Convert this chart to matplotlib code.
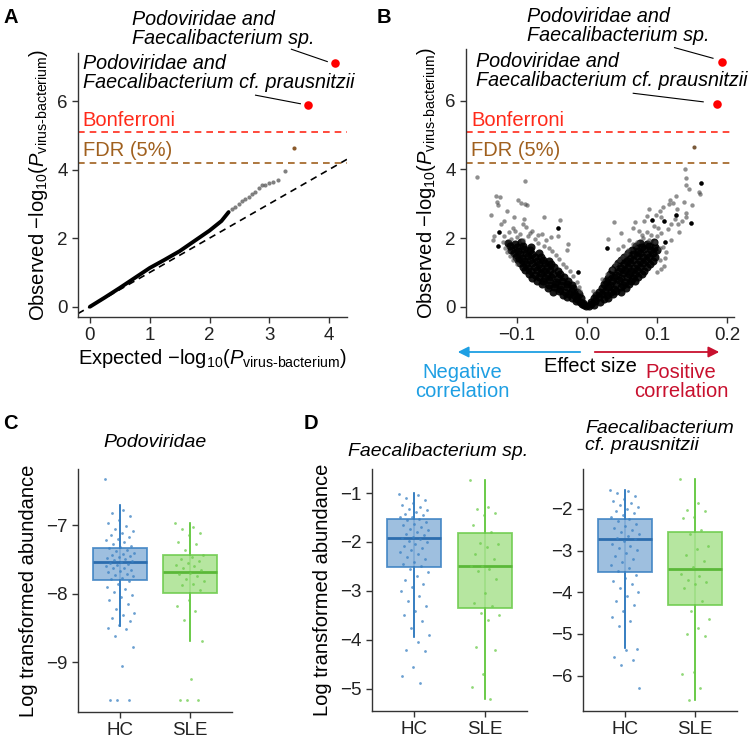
import matplotlib
matplotlib.use("Agg")
import matplotlib.pyplot as plt

plt.rcParams["font.family"] = ["Liberation Sans", "DejaVu Sans"]
plt.rcParams["mathtext.fontset"] = "custom"
plt.rcParams["mathtext.rm"] = "Liberation Sans"
plt.rcParams["mathtext.it"] = "Liberation Sans:italic"
plt.rcParams["mathtext.bf"] = "Liberation Sans:bold"

# ---- panel A: QQ plot ----
qq_bulk_exp = [0.0, 0.25, 0.5, 0.75, 1.0, 1.25, 1.5, 1.75, 2.0, 2.2, 2.32]
qq_bulk_obs = [0.0, 0.27, 0.55, 0.84, 1.13, 1.37, 1.62, 1.92, 2.22, 2.50, 2.76]
qq_tail_exp = [2.38, 2.43, 2.49, 2.55, 2.60, 2.66, 2.71, 2.76, 2.82, 2.87, 2.92, 2.99, 3.06, 3.15, 3.26]
qq_tail_obs = [2.84, 2.92, 3.00, 3.07, 3.15, 3.20, 3.29, 3.36, 3.47, 3.54, 3.56, 3.61, 3.65, 3.70, 3.95]
qq_fdr_exp = [3.41]
qq_fdr_obs = [4.62]
qq_top_exp = [3.64, 4.10]
qq_top_obs = [5.88, 7.10]

bonferroni = 5.1
fdr = 4.2

# ---- panel B: volcano ----
vol_core_left = [
    (-0.004, 0.04), (-0.007, 0.07), (-0.002, 0.02),
    (-0.010, 0.14), (-0.016, 0.17), (-0.006, 0.12),
    (-0.022, 0.24), (-0.028, 0.27), (-0.014, 0.22), (-0.008, 0.26),
    (-0.035, 0.35), (-0.026, 0.37), (-0.018, 0.33), (-0.011, 0.36),
    (-0.048, 0.44), (-0.040, 0.47), (-0.031, 0.43), (-0.022, 0.46), (-0.015, 0.44),
    (-0.056, 0.55), (-0.047, 0.57), (-0.038, 0.53), (-0.029, 0.56), (-0.020, 0.55),
    (-0.064, 0.66), (-0.055, 0.63), (-0.046, 0.67), (-0.037, 0.64), (-0.028, 0.66), (-0.022, 0.62),
    (-0.072, 0.76), (-0.063, 0.74), (-0.054, 0.77), (-0.045, 0.73), (-0.036, 0.76), (-0.027, 0.74),
    (-0.078, 0.85), (-0.069, 0.87), (-0.060, 0.84), (-0.051, 0.86), (-0.042, 0.83), (-0.033, 0.87),
    (-0.083, 0.96), (-0.075, 0.93), (-0.066, 0.97), (-0.057, 0.94), (-0.048, 0.96), (-0.038, 0.94),
    (-0.088, 1.06), (-0.080, 1.03), (-0.071, 1.07), (-0.062, 1.04), (-0.053, 1.06), (-0.042, 1.03),
    (-0.092, 1.16), (-0.084, 1.13), (-0.075, 1.17), (-0.066, 1.14), (-0.057, 1.16), (-0.047, 1.15),
    (-0.096, 1.26), (-0.087, 1.23), (-0.078, 1.27), (-0.069, 1.24), (-0.060, 1.26), (-0.051, 1.24),
    (-0.099, 1.36), (-0.090, 1.33), (-0.081, 1.37), (-0.072, 1.34), (-0.063, 1.36), (-0.055, 1.33),
    (-0.102, 1.46), (-0.093, 1.43), (-0.084, 1.47), (-0.075, 1.44), (-0.066, 1.46),
    (-0.104, 1.56), (-0.096, 1.53), (-0.087, 1.57), (-0.078, 1.54), (-0.069, 1.57),
    (-0.108, 1.66), (-0.099, 1.63), (-0.090, 1.67), (-0.081, 1.64),
    (-0.110, 1.76), (-0.100, 1.74), (-0.091, 1.77), (-0.080, 1.73),
    (-0.113, 1.86), (-0.103, 1.83), (-0.094, 1.88),
]
vol_core_right = [
    (0.003, 0.03), (0.006, 0.07), (0.010, 0.05),
    (0.006, 0.14), (0.012, 0.17), (0.018, 0.13),
    (0.010, 0.24), (0.017, 0.27), (0.024, 0.23), (0.030, 0.26),
    (0.013, 0.35), (0.021, 0.37), (0.029, 0.33), (0.037, 0.36),
    (0.017, 0.44), (0.025, 0.47), (0.034, 0.43), (0.042, 0.46), (0.049, 0.44),
    (0.021, 0.55), (0.030, 0.57), (0.039, 0.53), (0.048, 0.56), (0.056, 0.55),
    (0.024, 0.66), (0.033, 0.63), (0.042, 0.67), (0.051, 0.64), (0.060, 0.66),
    (0.027, 0.76), (0.036, 0.74), (0.045, 0.77), (0.054, 0.73), (0.063, 0.76), (0.069, 0.74),
    (0.030, 0.85), (0.039, 0.87), (0.048, 0.84), (0.057, 0.86), (0.066, 0.83), (0.073, 0.87),
    (0.033, 0.96), (0.042, 0.93), (0.051, 0.97), (0.060, 0.94), (0.069, 0.96), (0.078, 0.94),
    (0.036, 1.06), (0.045, 1.03), (0.054, 1.07), (0.063, 1.04), (0.072, 1.06), (0.082, 1.03),
    (0.040, 1.16), (0.049, 1.13), (0.058, 1.17), (0.067, 1.14), (0.076, 1.16), (0.086, 1.15),
    (0.044, 1.26), (0.053, 1.23), (0.062, 1.27), (0.071, 1.24), (0.080, 1.26), (0.090, 1.24),
    (0.048, 1.36), (0.057, 1.33), (0.066, 1.37), (0.075, 1.34), (0.084, 1.36), (0.094, 1.33),
    (0.053, 1.46), (0.062, 1.43), (0.071, 1.47), (0.080, 1.44), (0.089, 1.46), (0.097, 1.44),
    (0.058, 1.56), (0.067, 1.53), (0.076, 1.57), (0.085, 1.54), (0.094, 1.57),
    (0.064, 1.66), (0.073, 1.63), (0.082, 1.67), (0.091, 1.64), (0.100, 1.66),
    (0.070, 1.76), (0.079, 1.74), (0.088, 1.77), (0.097, 1.73),
    (0.076, 1.86), (0.086, 1.83), (0.095, 1.88),
]
vol_sparse = [
    (-0.157, 3.78), (-0.089, 3.65), (-0.130, 3.22), (-0.124, 3.20), (-0.128, 3.05),
    (-0.127, 2.97), (-0.099, 3.10), (-0.095, 3.03), (-0.089, 3.00), (-0.086, 2.95),
    (-0.114, 2.78), (-0.137, 2.68), (-0.061, 2.61), (-0.039, 2.54), (-0.042, 2.29),
    (-0.041, 2.05), (-0.126, 2.19), (-0.127, 1.76), (-0.123, 2.42), (-0.065, 2.12),
    (-0.091, 2.42), (-0.087, 2.32), (-0.079, 2.22), (-0.103, 2.22), (-0.111, 2.17),
    (-0.027, 1.83), (-0.028, 1.64), (-0.013, 1.00), (-0.118, 2.05), (-0.108, 1.98),
    (-0.100, 2.02), (-0.092, 1.95), (-0.085, 2.05), (-0.075, 1.98), (-0.070, 1.85),
    (-0.062, 1.78), (-0.055, 1.70), (-0.050, 1.62), (-0.045, 1.52), (-0.040, 1.40),
    (-0.035, 1.25), (-0.030, 1.15), (-0.025, 1.05), (-0.020, 0.90), (-0.015, 0.72),
    (-0.120, 1.90), (-0.117, 1.70), (-0.115, 1.58), (-0.110, 1.48), (-0.106, 2.30),
    (-0.096, 2.12), (-0.082, 2.15), (-0.070, 2.08), (-0.058, 1.95), (-0.052, 2.02),
    (-0.133, 2.05), (-0.135, 1.95), (-0.010, 0.45), (-0.106, 1.35), (-0.100, 1.25),
    (-0.012, 0.58), (-0.090, 2.55), (-0.104, 2.62), (-0.118, 2.50),
    (0.140, 4.00), (0.142, 3.75), (0.141, 3.54), (0.145, 3.43), (0.163, 3.60),
    (0.160, 3.34), (0.162, 3.29), (0.127, 3.22), (0.118, 3.10), (0.117, 3.00),
    (0.123, 3.02), (0.109, 2.92), (0.129, 2.86), (0.089, 2.84), (0.104, 2.78),
    (0.098, 2.66), (0.093, 2.54), (0.110, 2.49), (0.127, 2.66), (0.142, 2.74),
    (0.142, 2.61), (0.149, 2.44), (0.132, 2.19), (0.039, 2.47), (0.049, 2.14),
    (0.030, 1.96), (0.029, 1.71), (0.068, 2.47), (0.066, 2.30), (0.082, 2.49),
    (0.074, 2.22), (0.086, 2.17), (0.102, 2.30), (0.111, 1.88), (0.120, 1.93),
    (0.097, 1.88), (0.113, 1.59), (0.112, 1.42), (0.104, 1.35), (0.060, 1.95),
    (0.044, 1.69), (0.051, 1.76), (0.058, 1.66), (0.009, 0.47), (0.080, 2.00),
    (0.088, 1.95), (0.072, 1.90), (0.065, 1.82), (0.092, 2.10), (0.100, 2.05),
    (0.106, 2.15), (0.115, 2.25), (0.120, 2.40), (0.095, 2.35), (0.078, 2.10),
    (0.108, 1.75), (0.104, 1.70), (0.055, 1.55), (0.050, 1.45), (0.045, 1.35),
    (0.040, 1.25), (0.035, 1.10), (0.028, 0.95), (0.022, 0.80), (0.110, 1.20),
    (0.106, 1.10), (0.100, 1.02), (0.135, 2.50), (0.125, 2.55), (0.105, 2.60),
    (0.085, 2.65), (0.150, 2.95), (0.138, 3.05), (0.130, 2.40),
]
vol_dark = [(-0.126, 2.19), (-0.127, 1.76), (-0.042, 2.29), (-0.013, 1.00),
            (0.163, 3.60), (0.093, 2.54), (0.110, 2.49), (0.127, 2.66),
            (0.149, 2.44), (0.111, 1.88), (0.029, 1.71)]
vol_fdr = [(0.153, 4.66)]
vol_top = [(0.185, 5.90), (0.193, 7.12)]

# ---- panels C, D: box plots ----
groups = ["HC", "SLE"]
# (whislo, q1, med, q3, whishi)
stats_podo = [(-8.48, -7.80, -7.54, -7.33, -6.70), (-8.69, -7.99, -7.68, -7.44, -6.97)]
stats_faec_sp = [(-3.94, -2.51, -1.91, -1.53, -1.01), (-5.21, -3.35, -2.48, -1.81, -0.73)]
stats_faec_cf = [(-5.34, -3.52, -2.71, -2.24, -1.54), (-6.58, -4.30, -3.44, -2.56, -1.29)]

podo_hc = [-6.33, -6.78, -6.82, -6.86, -6.92, -6.97, -7.02, -7.05, -7.08, -7.12, -7.15, -7.18,
           -7.20, -7.22, -7.25, -7.27, -7.30, -7.32, -7.34, -7.36, -7.38, -7.40, -7.42, -7.43,
           -7.45, -7.46, -7.48, -7.50, -7.51, -7.53, -7.54, -7.55, -7.57, -7.58, -7.60, -7.62,
           -7.63, -7.65, -7.67, -7.69, -7.71, -7.73, -7.75, -7.77, -7.79, -7.82, -7.86, -7.90,
           -7.94, -7.98, -8.02, -8.05, -8.10, -8.15, -8.22, -8.28, -8.31, -8.35, -8.40, -8.46,
           -8.50, -8.52, -8.62, -8.78, -9.06, -9.55, -9.55, -9.55]
podo_sle = [-6.97, -7.03, -7.05, -7.12, -7.15, -7.25, -7.28, -7.36, -7.44, -7.47, -7.50, -7.52,
            -7.55, -7.58, -7.60, -7.63, -7.66, -7.70, -7.72, -7.74, -7.78, -7.82, -7.86, -7.88,
            -7.95, -8.10, -8.18, -8.25, -8.38, -8.70, -9.25, -9.55, -9.55, -9.55]
faec_sp_hc = [-1.02, -1.05, -1.10, -1.15, -1.20, -1.24, -1.28, -1.32, -1.35, -1.38, -1.42, -1.45,
              -1.48, -1.50, -1.53, -1.56, -1.60, -1.63, -1.66, -1.70, -1.73, -1.76, -1.80, -1.83,
              -1.86, -1.89, -1.91, -1.94, -1.97, -2.00, -2.04, -2.08, -2.12, -2.16, -2.20, -2.25,
              -2.30, -2.35, -2.40, -2.45, -2.50, -2.55, -2.62, -2.70, -2.78, -2.85, -2.92, -3.00,
              -3.10, -3.20, -3.30, -3.40, -3.50, -3.62, -3.75, -3.90, -4.04, -4.20, -4.22, -4.55,
              -4.74, -4.88]
faec_sp_sle = [-0.73, -1.28, -1.32, -1.40, -1.45, -1.65, -1.80, -2.02, -2.05, -2.10, -2.25, -2.35,
               -2.48, -2.50, -2.55, -2.60, -2.75, -3.05, -3.25, -3.30, -3.45, -3.50, -3.60, -4.15,
               -4.20, -4.70, -4.95, -5.21]
faec_cf_hc = [-1.54, -1.58, -1.62, -1.70, -1.75, -1.80, -1.85, -1.90, -1.95, -2.00, -2.05, -2.10,
              -2.15, -2.20, -2.25, -2.30, -2.35, -2.40, -2.45, -2.50, -2.55, -2.60, -2.65, -2.70,
              -2.73, -2.78, -2.83, -2.88, -2.93, -2.98, -3.05, -3.12, -3.20, -3.28, -3.35, -3.42,
              -3.50, -3.58, -3.65, -3.72, -3.80, -3.90, -4.00, -4.10, -4.20, -4.30, -4.45, -4.60,
              -4.70, -4.80, -5.35, -5.38, -5.55, -5.62, -5.75, -6.30]
faec_cf_sle = [-1.29, -1.85, -2.02, -2.05, -2.20, -2.22, -2.50, -2.60, -2.90, -2.95, -3.10, -3.25,
               -3.40, -3.55, -3.60, -3.70, -3.75, -3.80, -3.90, -4.20, -4.45, -4.65, -4.85, -5.00,
               -5.05, -5.92, -5.95, -6.30, -6.58]

W, H = 755, 739
fig = plt.figure(figsize=(7.55, 7.39), dpi=100)


def rect(l, t, r, b):
    return [l / W, 1 - b / H, (r - l) / W, (b - t) / H]


def style(ax):
    for s in ["top", "right"]:
        ax.spines[s].set_visible(False)
    for s in ["left", "bottom"]:
        ax.spines[s].set_color("#333333")
        ax.spines[s].set_linewidth(1.0)
    ax.tick_params(labelsize=13.5, length=4, width=1, color="#333333", labelcolor="#222222")


ylab_p = "Observed \u2212log$_{10}$($P_{\\text{virus-bacterium}}$)"
xlab_p = "Expected \u2212log$_{10}$($P_{\\text{virus-bacterium}}$)"
bonf_col = "#FF2A1A"
fdr_col = "#A0601E"
dash = (0, (4, 3))

# A
axA = fig.add_axes(rect(78, 53, 347, 317))
style(axA)
axA.set_xlim(-0.2, 4.3)
axA.set_ylim(-0.3, 7.4)
axA.plot([-0.2, 4.3], [-0.2, 4.3], color="black", lw=1.2, ls=dash)
axA.plot(qq_bulk_exp, qq_bulk_obs, color="black", lw=2.8, solid_capstyle="round")
axA.scatter(qq_tail_exp, qq_tail_obs, s=9, color="#555555", alpha=0.75, lw=0)
axA.scatter(qq_fdr_exp, qq_fdr_obs, s=9, color="#8B5A2B", lw=0)
axA.scatter(qq_top_exp, qq_top_obs, s=38, color="#FF0000", lw=0, zorder=5)
axA.axhline(bonferroni, color=bonf_col, lw=1.2, ls=dash)
axA.axhline(fdr, color=fdr_col, lw=1.2, ls=dash)
axA.set_xticks([0, 1, 2, 3, 4])
axA.set_yticks([0, 2, 4, 6])
axA.set_xlabel(xlab_p, fontsize=14.5, labelpad=2)
axA.set_ylabel(ylab_p, fontsize=14.5, labelpad=5)
axA.text(-0.12, bonferroni + 0.05, "Bonferroni", color=bonf_col, fontsize=14.5, va="bottom")
axA.text(-0.12, fdr + 0.07, "FDR (5%)", color=fdr_col, fontsize=14.5, va="bottom")
axA.text(0.70, 8.65, "Podoviridae and\nFaecalibacterium sp.", style="italic", fontsize=14.2,
         va="top", linespacing=1.0, clip_on=False)
axA.text(-0.12, 7.38, "Podoviridae and\nFaecalibacterium cf. prausnitzii", style="italic",
         fontsize=14.2, va="top", linespacing=1.0, clip_on=False)
axA.plot([3.37, 3.97], [7.51, 7.15], color="black", lw=0.8, clip_on=False)
axA.plot([2.77, 3.52], [6.17, 5.92], color="black", lw=0.8, clip_on=False)

# B
axB = fig.add_axes(rect(466, 49, 734, 317))
style(axB)
axB.set_xlim(-0.173, 0.21)
axB.set_ylim(-0.3, 7.51)
cx = [p[0] for p in vol_core_left + vol_core_right]
cy = [p[1] for p in vol_core_left + vol_core_right]
axB.scatter(cx, cy, s=34, color="black", alpha=0.9, lw=0)
axB.scatter([p[0] for p in vol_sparse], [p[1] for p in vol_sparse], s=10, color="#444444",
            alpha=0.6, lw=0)
axB.scatter([p[0] for p in vol_dark], [p[1] for p in vol_dark], s=10, color="black", lw=0)
axB.scatter([p[0] for p in vol_fdr], [p[1] for p in vol_fdr], s=9, color="#7A5A3A", lw=0)
axB.scatter([p[0] for p in vol_top], [p[1] for p in vol_top], s=38, color="#FF0000", lw=0, zorder=5)
axB.axhline(bonferroni, color=bonf_col, lw=1.2, ls=dash)
axB.axhline(fdr, color=fdr_col, lw=1.2, ls=dash)
axB.set_xticks([-0.1, 0.0, 0.1, 0.2])
axB.set_xticklabels(["\u22120.1", "0.0", "0.1", "0.2"])
axB.set_yticks([0, 2, 4, 6])
axB.set_ylabel(ylab_p, fontsize=14.5, labelpad=5)
axB.text(-0.166, bonferroni + 0.05, "Bonferroni", color=bonf_col, fontsize=14.5, va="bottom")
axB.text(-0.166, fdr + 0.07, "FDR (5%)", color=fdr_col, fontsize=14.5, va="bottom")
axB.text(-0.086, 8.73, "Podoviridae and\nFaecalibacterium sp.", style="italic", fontsize=14.2,
         va="top", linespacing=1.0, clip_on=False)
axB.text(-0.158, 7.42, "Podoviridae and\nFaecalibacterium cf. prausnitzii", style="italic",
         fontsize=14.2, va="top", linespacing=1.0, clip_on=False)
axB.plot([0.125, 0.180], [7.55, 7.24], color="black", lw=0.8, clip_on=False)
axB.plot([0.066, 0.166], [6.22, 5.97], color="black", lw=0.8, clip_on=False)

# arrows below B
def fp(px, py):
    return (px / W, 1 - py / H)

blue = "#1E9FE3"
red = "#C8102E"
fig.add_artist(matplotlib.patches.FancyArrowPatch(fp(583, 352), fp(455, 352), arrowstyle="-|>",
               mutation_scale=16, color=blue, lw=1.3, transform=fig.transFigure))
fig.add_artist(matplotlib.patches.FancyArrowPatch(fp(592, 352), fp(722, 352), arrowstyle="-|>",
               mutation_scale=16, color=red, lw=1.3, transform=fig.transFigure))
fig.text(*fp(590, 366), "Effect size", fontsize=14.5, ha="center", va="center")
fig.text(*fp(462, 382), "Negative\ncorrelation", fontsize=14.5, ha="center", va="center",
         color=blue, linespacing=1.05)
fig.text(*fp(681, 382), "Positive\ncorrelation", fontsize=14.5, ha="center", va="center",
         color=red, linespacing=1.05)

# box plots
hc_face, hc_edge, hc_med = "#8DB4DA", "#3A80C2", "#2C6DAE"
sle_face, sle_edge, sle_med = "#A9E290", "#6CCB4B", "#5AB838"


def draw_box(ax, stats, pts_hc, pts_sle):
    style(ax)
    cols = [(hc_face, hc_edge, hc_med), (sle_face, sle_edge, sle_med)]
    for i, (st, pts) in enumerate(zip(stats, [pts_hc, pts_sle])):
        face, edge, med = cols[i]
        ax.vlines(i, st[0], st[4], color=edge, lw=1.3, zorder=1)
        ax.bxp([dict(whislo=st[0], q1=st[1], med=st[2], q3=st[3], whishi=st[4])],
               positions=[i], widths=0.77, patch_artist=True, showfliers=False,
               showcaps=False, manage_ticks=False,
               boxprops=dict(facecolor=face, edgecolor=edge, lw=1.3, alpha=0.85),
               whiskerprops=dict(color=edge, lw=1.3),
               medianprops=dict(color=med, lw=2.0))
        xs = [i + ((k * 0.618034) % 1 - 0.5) * 0.42 for k in range(len(pts))]
        ax.scatter(xs, pts, s=4, color=edge, alpha=0.75, lw=0, zorder=3)
    ax.set_xlim(-0.6, 1.6)
    ax.set_xticks([0, 1])
    ax.set_xticklabels(groups)


axC = fig.add_axes(rect(78, 469, 232, 712))
draw_box(axC, stats_podo, podo_hc, podo_sle)
axC.set_ylim(-9.73, -6.18)
axC.set_yticks([-9, -8, -7])
axC.set_ylabel("Log transformed abundance", fontsize=14.5, labelpad=6)
axC.text(0.5, 1.107, "Podoviridae", style="italic", fontsize=14, ha="center", va="center",
         transform=axC.transAxes)

axD1 = fig.add_axes(rect(372, 469, 527, 711))
draw_box(axD1, stats_faec_sp, faec_sp_hc, faec_sp_sle)
axD1.set_ylim(-5.45, -0.51)
axD1.set_yticks([-5, -4, -3, -2, -1])
axD1.set_ylabel("Log transformed abundance", fontsize=14.5, labelpad=6)
axD1.text(0.427, 1.073, "Faecalibacterium sp.", style="italic", fontsize=14, ha="center",
          va="center", transform=axD1.transAxes)

axD2 = fig.add_axes(rect(583, 469, 737, 711))
draw_box(axD2, stats_faec_cf, faec_cf_hc, faec_cf_sle)
axD2.set_ylim(-6.85, -1.04)
axD2.set_yticks([-6, -5, -4, -3, -2])
axD2.text(0.015, 1.134, "Faecalibacterium\ncf. prausnitzii", style="italic", fontsize=14,
          ha="left", va="center", linespacing=1.0, transform=axD2.transAxes)

# panel letters
for letter, px, py in [("A", 3, 8), ("B", 377, 8), ("C", 3, 414), ("D", 304, 414)]:
    fig.text(*fp(px, py), letter, fontsize=14.5, fontweight="bold", va="top", ha="left")

fig.savefig("out.png", dpi=100)
